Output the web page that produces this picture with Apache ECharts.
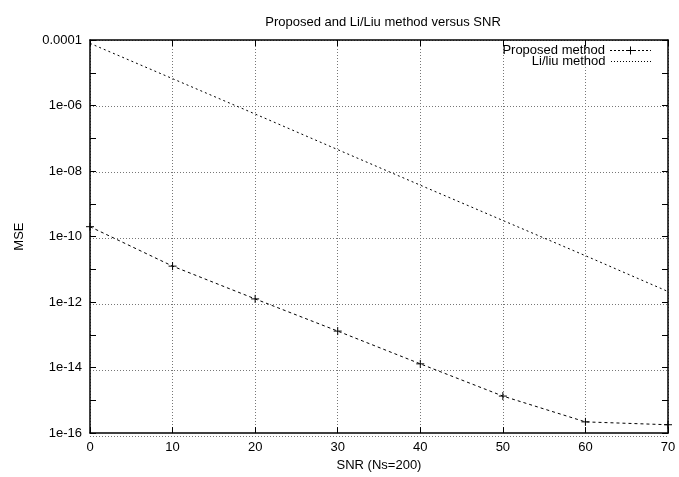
<!DOCTYPE html>
<html><head><meta charset="utf-8">
<script src="https://cdn.jsdelivr.net/npm/echarts@6/dist/echarts.min.js"></script>
<style>html,body{margin:0;padding:0;background:#fff}#c{width:679px;height:477px}</style>
</head><body><div id="c"></div>
<script>
const snr = [0, 10, 20, 30, 40, 50, 60, 70];
const proposed = [2.0e-10, 1.25e-11, 1.25e-12, 1.3e-13, 1.3e-14, 1.35e-15, 2.2e-16, 1.8e-16];
const liliu = [7.9e-5, 6.6e-6, 5.5e-7, 4.5e-8, 3.7e-9, 3.1e-10, 2.6e-11, 2.1e-12];
const names = ['Proposed method', 'Li/liu method'];

const font = '"Liberation Sans", Arial, sans-serif';
const fs = 13;
function yFmt(v) {
  const e = Math.round(Math.log10(v));
  if (e % 2 !== 0) return '';
  if (e === -4) return '0.0001';
  const a = Math.abs(e);
  return '1e' + (e < 0 ? '-' : '+') + (a < 10 ? '0' + a : a);
}
let p1 = '';
for (let x = 0; x <= 40; x += 4) p1 += 'M' + x + ',3.5h' + (x === 40 ? 1 : 2) + 'v1h-' + (x === 40 ? 1 : 2) + 'z';
p1 += 'M20,0h1v8h-1zM16.5,3.5h8v1h-8z';
let p2 = '';
for (let x = 0; x <= 39; x += 3) p2 += 'M' + x + ',0h1v1h-1z';
p2 += 'M40,0h0.01v1h-0.01z';

const tickStyle = { color: '#000', width: 1 };
const gridLine = { color: '#777', type: [1, 2], width: 1 };
const yBase = { type: 'log', logBase: 10, min: 1e-16, max: 1e-4 };
const legendText = { fontFamily: font, fontSize: fs, color: '#000', lineHeight: 13 };
const gridBox = { left: 90, right: 11, top: 40, bottom: 41 };
const chart = echarts.init(document.getElementById('c'));
chart.setOption({
  animation: false,
  title: { text: 'Proposed and Li/Liu method versus SNR', left: 378, textAlign: 'center', top: 11,
    textStyle: { fontFamily: font, fontSize: fs, fontWeight: 'normal', color: '#000' } },
  legend: [{
    orient: 'vertical', right: 28, top: 44, padding: 0, align: 'right', itemGap: 0,
    itemWidth: 41, itemHeight: 8, textStyle: legendText,
    itemStyle: { color: '#000', borderWidth: 0 },
    data: [{ name: names[0], icon: 'path://' + p1 }]
  }, {
    orient: 'vertical', right: 28, top: 55, padding: 0, align: 'right', itemGap: 0,
    itemWidth: 41, itemHeight: 1, textStyle: legendText,
    itemStyle: { color: '#000', borderWidth: 0 },
    data: [{ name: names[1], icon: 'path://' + p2 }]
  }],
  grid: [Object.assign({}, gridBox), Object.assign({}, gridBox)],
  xAxis: [{
    gridIndex: 0, type: 'value', min: 0, max: 70, interval: 10, position: 'bottom',
    name: 'SNR (Ns=200)', nameLocation: 'middle', nameGap: 24,
    nameTextStyle: { fontFamily: font, fontSize: fs, color: '#000' },
    axisLine: { onZero: false, lineStyle: { color: '#000', width: 1.5 } },
    axisTick: { inside: true, length: 6, lineStyle: tickStyle },
    axisLabel: { fontFamily: font, fontSize: fs, color: '#000', margin: 8 },
    splitLine: { show: true, lineStyle: gridLine }
  }, {
    gridIndex: 0, type: 'value', min: 0, max: 70, interval: 10, position: 'top',
    axisLine: { onZero: false, lineStyle: { color: '#000', width: 1.5 } },
    axisTick: { inside: true, length: 6, lineStyle: tickStyle },
    axisLabel: { show: false }, splitLine: { show: false }
  }, {
    gridIndex: 1, type: 'value', min: 0, max: 70, show: false
  }],
  yAxis: [Object.assign({}, yBase, {
    gridIndex: 0, interval: 1, position: 'left',
    name: 'MSE', nameLocation: 'middle', nameGap: 64, nameRotate: 90,
    nameTextStyle: { fontFamily: font, fontSize: fs, color: '#000' },
    axisLine: { show: true, onZero: false, lineStyle: { color: '#000', width: 1.5 } },
    axisTick: { show: true, inside: true, length: 6, lineStyle: tickStyle },
    axisLabel: { fontFamily: font, fontSize: fs, color: '#000', margin: 8, formatter: yFmt },
    splitLine: { show: false }
  }), Object.assign({}, yBase, {
    gridIndex: 0, interval: 1, position: 'right',
    axisLine: { show: true, onZero: false, lineStyle: { color: '#000', width: 1.5 } },
    axisTick: { show: true, inside: true, length: 6, lineStyle: tickStyle },
    axisLabel: { show: false }, splitLine: { show: false }
  }), Object.assign({}, yBase, {
    gridIndex: 1, interval: 2, position: 'left',
    axisLine: { show: false }, axisTick: { show: false }, axisLabel: { show: false },
    splitLine: { show: true, lineStyle: gridLine }
  })],
  series: [{
    name: names[0], type: 'line', xAxisIndex: 0, yAxisIndex: 0, z: 5,
    data: snr.map((x, i) => [x, proposed[i]]),
    symbol: 'path://M0,5L10,5M5,0L5,10', symbolSize: 8, showSymbol: true,
    itemStyle: { color: '#000', borderColor: '#000', borderWidth: 1 },
    lineStyle: { color: '#000', width: 1, type: [3, 3] }
  }, {
    name: names[1], type: 'line', xAxisIndex: 0, yAxisIndex: 0, z: 5,
    data: snr.map((x, i) => [x, liliu[i]]),
    symbol: 'none', showSymbol: false,
    itemStyle: { color: '#000' },
    lineStyle: { color: '#000', width: 1, type: [2, 3] }
  }]
});
</script></body></html>
